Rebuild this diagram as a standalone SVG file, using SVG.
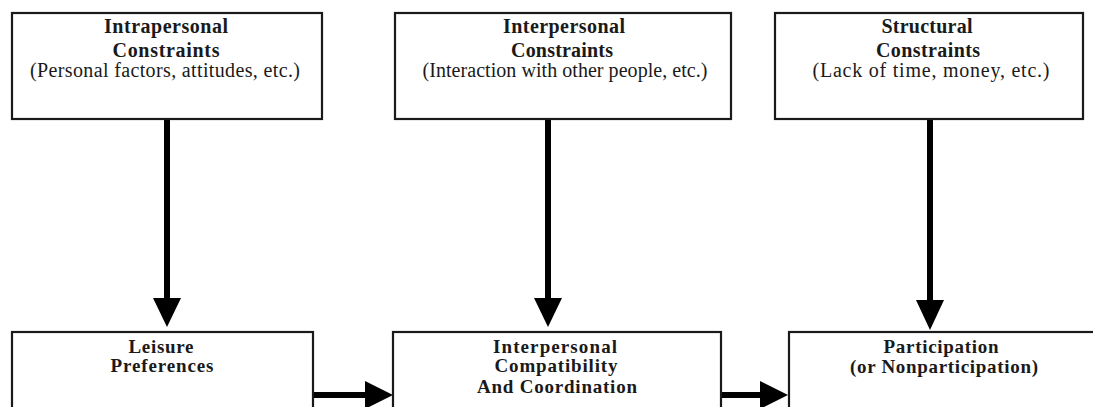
<svg xmlns="http://www.w3.org/2000/svg" width="1093" height="407" viewBox="0 0 1093 407">
<style>
.box{fill:#fff;stroke:#1a1a1a;stroke-width:2.2}
.t{font-family:"Liberation Serif","Times New Roman",serif;font-size:20px;font-weight:bold;fill:#1a1a1a;text-anchor:middle}
.b{font-family:"Liberation Serif","Times New Roman",serif;font-size:19px;font-weight:bold;fill:#1a1a1a;text-anchor:middle}
.s{font-family:"Liberation Serif","Times New Roman",serif;font-size:20px;fill:#1a1a1a;text-anchor:middle}
.ln{stroke:#000;stroke-width:6;fill:none}
.hd{fill:#000}
</style>
<rect width="1093" height="407" fill="#fff"/>
<g id="intrapersonal">
<rect class="box" x="12" y="13" width="310" height="106"/>
<text class="t" x="166" y="33" textLength="124" lengthAdjust="spacing">Intrapersonal</text>
<text class="t" x="166" y="57" textLength="107" lengthAdjust="spacing">Constraints</text>
<text class="s" x="165" y="77" textLength="270" lengthAdjust="spacing">(Personal factors, attitudes, etc.)</text>
</g>
<g id="interpersonal">
<rect class="box" x="395" y="13" width="336" height="106"/>
<text class="t" x="564" y="33" textLength="122" lengthAdjust="spacing">Interpersonal</text>
<text class="t" x="562" y="57" textLength="102" lengthAdjust="spacing">Constraints</text>
<text class="s" x="565" y="77" textLength="285" lengthAdjust="spacing">(Interaction with other people, etc.)</text>
</g>
<g id="structural">
<rect class="box" x="775" y="13" width="308" height="106"/>
<text class="t" x="927" y="33" textLength="91" lengthAdjust="spacing">Structural</text>
<text class="t" x="928" y="57" textLength="104" lengthAdjust="spacing">Constraints</text>
<text class="s" x="931" y="77" textLength="237" lengthAdjust="spacing">(Lack of time, money, etc.)</text>
</g>
<g id="leisure">
<rect class="box" x="12" y="332" width="301" height="90"/>
<text class="b" x="161" y="353" textLength="65" lengthAdjust="spacing">Leisure</text>
<text class="b" x="162" y="372" textLength="103" lengthAdjust="spacing">Preferences</text>
</g>
<g id="compatibility">
<rect class="box" x="393" y="332" width="328" height="90"/>
<text class="b" x="555" y="353" textLength="124" lengthAdjust="spacing">Interpersonal</text>
<text class="b" x="556" y="372" textLength="123" lengthAdjust="spacing">Compatibility</text>
<text class="b" x="557" y="393" textLength="160" lengthAdjust="spacing">And Coordination</text>
</g>
<g id="participation">
<rect class="box" x="789" y="332" width="320" height="90"/>
<text class="b" x="941" y="353" textLength="115" lengthAdjust="spacing">Participation</text>
<text class="b" x="944" y="373" textLength="188" lengthAdjust="spacing">(or Nonparticipation)</text>
</g>
<g id="connectors">
<line class="ln" x1="167" y1="120" x2="167" y2="300"/>
<polygon class="hd" points="153,298 181,298 167,327"/>
<line class="ln" x1="548" y1="120" x2="548" y2="300"/>
<polygon class="hd" points="534,298 562,298 548,327"/>
<line class="ln" x1="930" y1="120" x2="930" y2="302"/>
<polygon class="hd" points="916,300 944,300 930,330"/>
<line class="ln" x1="314" y1="395" x2="367" y2="395"/>
<polygon class="hd" points="365,381 365,409 393,395"/>
<line class="ln" x1="722" y1="395" x2="762" y2="395"/>
<polygon class="hd" points="760,381 760,409 788,395"/>
</g>
</svg>
